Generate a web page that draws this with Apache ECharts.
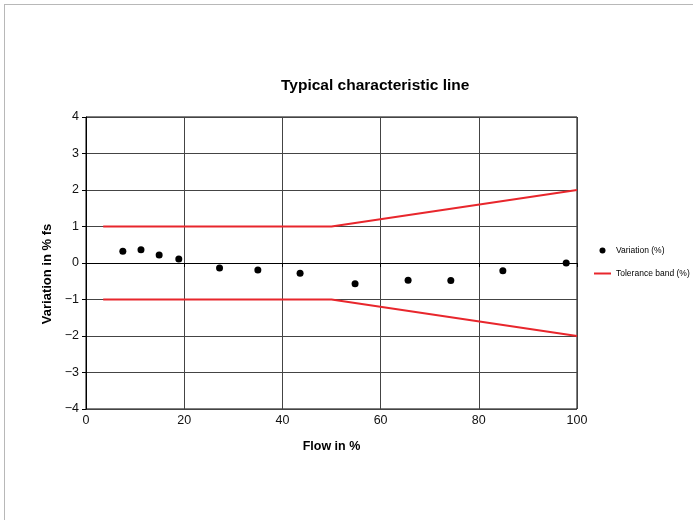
<!DOCTYPE html>
<html>
<head>
<meta charset="utf-8">
<script src="https://cdn.jsdelivr.net/npm/echarts@6/dist/echarts.min.js"></script>
<style>
html,body{margin:0;padding:0;background:#fff;}
#frame{position:absolute;left:4px;top:4px;width:800px;height:600px;border-left:1px solid #b8b8b8;border-top:1px solid #b8b8b8;}
#chart{position:absolute;left:0;top:0;width:693px;height:520px;}
</style>
</head>
<body>
<div id="frame"></div>
<div id="chart"></div>
<script>
var flowPct = [7.5, 11.2, 14.9, 18.9, 27.2, 35.0, 43.6, 54.8, 65.6, 74.3, 84.9, 97.8];
var variation = [0.32, 0.36, 0.22, 0.11, -0.14, -0.19, -0.28, -0.57, -0.47, -0.48, -0.21, 0.0];
var tolX = [3.5, 50, 100];
var tolUpper = [1, 1, 2];
var tolLower = [-1, -1, -2];
var xTicks = [0, 20, 40, 60, 80, 100];
var yTicks = [-4, -3, -2, -1, 0, 1, 2, 3, 4];

var FONT = '"Liberation Sans", Arial, Helvetica, sans-serif';
function pair(xs, ys){ return xs.map(function(x,i){ return [x, ys[i]]; }); }
function minus(v){ return String(v).replace('-', '\u2212'); }

var chart = echarts.init(document.getElementById('chart'), null, {renderer:'canvas'});
chart.setOption({
  backgroundColor: 'transparent',
  animation: false,
  textStyle: {fontFamily: FONT},
  title: {
    text: 'Typical characteristic line',
    left: 281, top: 78, padding: 0,
    textStyle: {fontFamily: FONT, fontSize: 15.5, fontWeight: 'bold', color: '#000'}
  },
  legend: {
    orient: 'vertical',
    left: 593, top: 246, padding: 0,
    itemGap: 14,
    itemWidth: 17, itemHeight: 6,
    textStyle: {fontFamily: FONT, fontSize: 8.5, color: '#000'},
    data: [
      {name: 'Variation (%)', icon: 'circle'},
      {name: 'Tolerance band (%)', itemStyle: {opacity: 0}}
    ]
  },
  grid: {left: 86, right: 116, top: 117, bottom: 111, show: true, borderColor: '#000', borderWidth: 1},
  xAxis: {
    type: 'value', min: xTicks[0], max: xTicks[xTicks.length-1], interval: 20,
    name: 'Flow in %', nameLocation: 'middle', nameGap: 31,
    nameTextStyle: {fontFamily: FONT, fontSize: 12.5, fontWeight: 'bold', color: '#000'},
    axisLine: {show: true, lineStyle: {color: '#000', width: 1}},
    axisTick: {show: true, length: 4, lineStyle: {color: '#000'}},
    axisLabel: {fontFamily: FONT, fontSize: 12.5, color: '#111', margin: 5, formatter: minus},
    splitLine: {show: true, lineStyle: {color: '#444', width: 1}}
  },
  yAxis: {
    type: 'value', min: yTicks[0], max: yTicks[yTicks.length-1], interval: 1,
    name: 'Variation in % fs', nameLocation: 'middle', nameGap: 30, nameRotate: 90,
    nameTextStyle: {fontFamily: FONT, fontSize: 13, fontWeight: 'bold', color: '#000', padding: [0, 22, 0, 0]},
    axisLine: {show: true, lineStyle: {color: '#000', width: 1}},
    axisTick: {show: true, length: 4, lineStyle: {color: '#000'}},
    axisLabel: {fontFamily: FONT, fontSize: 12.5, color: '#111', margin: 7, formatter: minus},
    splitLine: {show: true, lineStyle: {color: '#444', width: 1}}
  },
  series: [
    {
      name: 'Variation (%)', type: 'scatter',
      data: pair(flowPct, variation),
      symbol: 'circle', symbolSize: 7,
      itemStyle: {color: '#000', opacity: 1}
    },
    {
      name: 'Tolerance band (%)', type: 'line',
      data: pair(tolX, tolUpper),
      showSymbol: false, symbol: 'none',
      lineStyle: {color: '#e8262c', width: 2},
      itemStyle: {color: '#e8262c'}
    },
    {
      name: 'Tolerance band (%)', type: 'line',
      data: pair(tolX, tolLower),
      showSymbol: false, symbol: 'none',
      lineStyle: {color: '#e8262c', width: 2},
      itemStyle: {color: '#e8262c'}
    }
  ]
});
</script>
</body>
</html>
